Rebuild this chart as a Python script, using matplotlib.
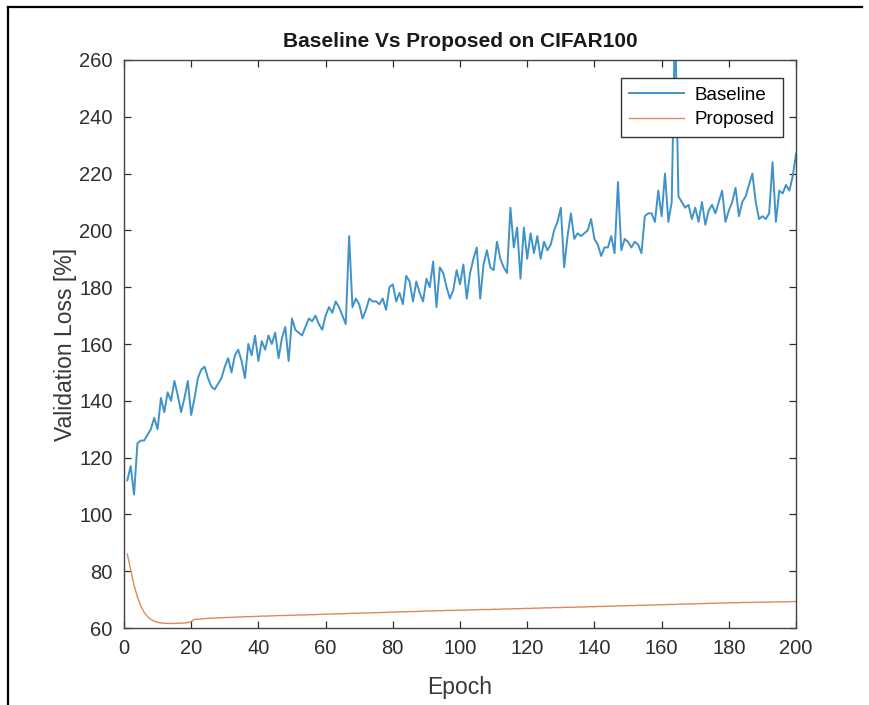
import numpy as np
import matplotlib.pyplot as plt
from matplotlib.lines import Line2D

plt.rcParams['font.family'] = ['Liberation Sans', 'DejaVu Sans']

# validation loss per epoch (1..200)
baseline = [
    112, 117, 107, 125, 126, 126, 128, 130, 134, 130,
    141, 136, 143, 140, 147, 142, 136, 141, 147, 135,
    141, 148, 151, 152, 148, 145, 144, 146, 148, 152,
    155, 150, 156, 158, 154, 148, 160, 156, 163, 154,
    161, 158, 163, 160, 164, 155, 162, 166, 154, 169,
    165, 164, 163, 166, 169, 168, 170, 167, 165, 170,
    173, 171, 175, 173, 170, 167, 198, 173, 176, 174,
    169, 172, 176, 175, 175, 174, 176, 172, 180, 181,
    175, 178, 174, 184, 182, 175, 182, 178, 175, 183,
    180, 189, 173, 187, 185, 180, 176, 179, 186, 181,
    188, 176, 185, 190, 194, 176, 188, 193, 187, 186,
    196, 190, 187, 185, 208, 194, 201, 183, 201, 190,
    199, 192, 198, 190, 196, 193, 195, 200, 203, 208,
    187, 198, 206, 197, 199, 198, 199, 200, 204, 197,
    195, 191, 194, 194, 198, 192, 217, 193, 197, 196,
    194, 196, 195, 192, 205, 206, 206, 203, 214, 205,
    220, 203, 210, 275, 212, 210, 208, 209, 204, 208,
    203, 210, 202, 207, 209, 206, 210, 214, 203, 207,
    210, 215, 205, 210, 212, 216, 220, 210, 204, 205,
    204, 206, 224, 203, 214, 213, 216, 214, 219, 227,
]

proposed = [
    86.0, 80.5, 75.0, 71.0, 67.8, 65.5, 64.0, 63.0, 62.4, 62.0,
    61.8, 61.7, 61.6, 61.6, 61.6, 61.7, 61.7, 61.8, 61.9, 62.3,
    63.0, 63.1, 63.2, 63.3, 63.4, 63.5, 63.5, 63.6, 63.6, 63.7,
    63.7, 63.8, 63.8, 63.9, 63.9, 64.0, 64.0, 64.0, 64.1, 64.1,
    64.2, 64.2, 64.2, 64.3, 64.3, 64.4, 64.4, 64.4, 64.5, 64.5,
    64.5, 64.6, 64.6, 64.6, 64.7, 64.7, 64.7, 64.8, 64.8, 64.9,
    64.9, 64.9, 65.0, 65.0, 65.0, 65.1, 65.1, 65.2, 65.2, 65.2,
    65.3, 65.3, 65.3, 65.4, 65.4, 65.4, 65.5, 65.5, 65.6, 65.6,
    65.6, 65.7, 65.7, 65.7, 65.8, 65.8, 65.8, 65.9, 65.9, 66.0,
    66.0, 66.0, 66.1, 66.1, 66.1, 66.2, 66.2, 66.2, 66.3, 66.3,
    66.3, 66.3, 66.4, 66.4, 66.4, 66.5, 66.5, 66.5, 66.5, 66.6,
    66.6, 66.6, 66.7, 66.7, 66.7, 66.8, 66.8, 66.8, 66.9, 66.9,
    66.9, 67.0, 67.0, 67.0, 67.1, 67.1, 67.1, 67.2, 67.2, 67.2,
    67.3, 67.3, 67.3, 67.3, 67.4, 67.4, 67.4, 67.5, 67.5, 67.5,
    67.6, 67.6, 67.6, 67.7, 67.7, 67.7, 67.8, 67.8, 67.8, 67.9,
    67.9, 67.9, 68.0, 68.0, 68.0, 68.1, 68.1, 68.1, 68.2, 68.2,
    68.2, 68.3, 68.3, 68.3, 68.4, 68.4, 68.4, 68.5, 68.5, 68.5,
    68.6, 68.6, 68.6, 68.7, 68.7, 68.7, 68.8, 68.8, 68.8, 68.9,
    68.9, 68.9, 68.9, 69.0, 69.0, 69.0, 69.0, 69.1, 69.1, 69.1,
    69.1, 69.1, 69.2, 69.2, 69.2, 69.2, 69.2, 69.3, 69.3, 69.3,
]

epochs = np.arange(1, len(baseline) + 1)
xticks = list(range(0, 201, 20))
yticks = list(range(60, 261, 20))

fig = plt.figure(figsize=(8.7, 7.05), dpi=100)
ax = fig.add_axes([0.1425, 0.1092, 0.7725, 0.8057])

ax.plot(epochs, baseline, color='#3f93c9', lw=1.4, label='Baseline')
ax.plot(epochs, proposed, color='#dc8a5c', lw=1.0, label='Proposed')

ax.set_xlim(0, 200)
ax.set_ylim(60, 260)
ax.set_xticks(xticks)
ax.set_yticks(yticks)
ax.tick_params(direction='in', length=5, width=0.9, top=True, right=True,
               labelsize=14.5, colors='#2e2e2e', pad=8)
for sp in ax.spines.values():
    sp.set_color('#444444')
    sp.set_linewidth(1.0)

ax.set_title('Baseline Vs Proposed on CIFAR100', fontsize=15, fontweight='bold',
             color='#1a1a1a', pad=9)
ax.set_xlabel('Epoch', fontsize=16.5, color='#383838', labelpad=13)
ax.set_ylabel('Validation Loss [%]', fontsize=16.5, color='#383838', labelpad=2)

leg = ax.legend(loc='upper right', fontsize=13.5, handlelength=2.9,
                fancybox=False, framealpha=1, borderpad=0.45,
                labelspacing=0.4, handletextpad=0.6, borderaxespad=0,
                bbox_to_anchor=(0.981, 0.968))
leg.get_frame().set_edgecolor('#333333')
leg.get_frame().set_linewidth(1.0)

# frame around the figure (top and left edges)
fig.add_artist(Line2D([8 / 870, 862 / 870], [1 - 7 / 705, 1 - 7 / 705],
                      color='black', lw=1.6, transform=fig.transFigure))
fig.add_artist(Line2D([8 / 870, 8 / 870], [0, 1 - 7 / 705],
                      color='black', lw=1.6, transform=fig.transFigure))

fig.savefig('out.png', dpi=100)
